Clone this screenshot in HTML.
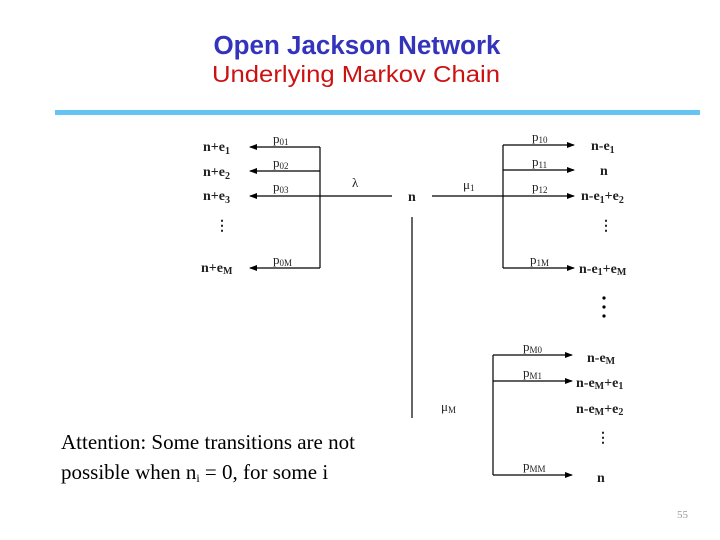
<!DOCTYPE html>
<html><head><meta charset="utf-8"><style>
body{margin:0;background:#fff;}
svg{display:block}
.t{font-family:"Liberation Serif",serif;font-weight:bold;font-size:14px;fill:#222}
.p{font-family:"Liberation Serif",serif;font-size:13px;fill:#222}
</style></head><body>
<svg width="720" height="540" viewBox="0 0 720 540" xmlns="http://www.w3.org/2000/svg">
<defs><marker id="a" markerWidth="8" markerHeight="6" refX="7" refY="3" orient="auto" markerUnits="userSpaceOnUse"><path d="M0,0 L8,3 L0,6 z" fill="#000"/></marker></defs>
<text x="357" y="54" text-anchor="middle" font-family="Liberation Sans,sans-serif" font-weight="bold" font-size="25.5" fill="#3333bb" textLength="287" lengthAdjust="spacingAndGlyphs">Open Jackson Network</text>
<text x="356" y="82" text-anchor="middle" font-family="Liberation Sans,sans-serif" font-size="23" fill="#cc1111" textLength="288" lengthAdjust="spacingAndGlyphs">Underlying Markov Chain</text>
<rect x="55" y="110" width="645" height="5" fill="#66c4f2"/>
<g stroke="#000" stroke-width="1.2" fill="none">
<line x1="320" y1="147" x2="320" y2="268"/>
<line x1="392" y1="196" x2="320" y2="196"/>
<line x1="320" y1="147" x2="250" y2="147" marker-end="url(#a)"/>
<line x1="320" y1="171" x2="250" y2="171" marker-end="url(#a)"/>
<line x1="320" y1="196" x2="250" y2="196" marker-end="url(#a)"/>
<line x1="320" y1="268" x2="250" y2="268" marker-end="url(#a)"/>
<line x1="432" y1="196" x2="503" y2="196"/>
<line x1="503" y1="145" x2="503" y2="268"/>
<line x1="503" y1="145" x2="574" y2="145" marker-end="url(#a)"/>
<line x1="503" y1="170" x2="574" y2="170" marker-end="url(#a)"/>
<line x1="503" y1="196" x2="574" y2="196" marker-end="url(#a)"/>
<line x1="503" y1="268" x2="574" y2="268" marker-end="url(#a)"/>
<line x1="412" y1="217" x2="412" y2="418"/>
<line x1="493" y1="355" x2="493" y2="475"/>
<line x1="493" y1="355" x2="572" y2="355" marker-end="url(#a)"/>
<line x1="493" y1="381" x2="572" y2="381" marker-end="url(#a)"/>
<line x1="493" y1="475" x2="572" y2="475" marker-end="url(#a)"/>
</g>
<text class="t" x="203" y="151">n+e<tspan font-size="10" dy="3">1</tspan></text>
<text class="t" x="203" y="176">n+e<tspan font-size="10" dy="3">2</tspan></text>
<text class="t" x="203" y="200">n+e<tspan font-size="10" dy="3">3</tspan></text>
<text class="t" x="215" y="230">⋮</text>
<text class="t" x="201" y="272">n+e<tspan font-size="10" dy="2">M</tspan></text>
<text class="p" x="273" y="143">p<tspan font-size="9" dy="2">01</tspan></text>
<text class="p" x="273" y="167">p<tspan font-size="9" dy="2">02</tspan></text>
<text class="p" x="273" y="191">p<tspan font-size="9" dy="2">03</tspan></text>
<text class="p" x="273" y="264">p<tspan font-size="9" dy="2">0M</tspan></text>
<text class="p" x="352" y="187" font-size="14">λ</text>
<text class="t" x="408" y="201">n</text>
<text class="p" x="463" y="189">μ<tspan font-size="9" dy="2">1</tspan></text>
<text class="p" x="532" y="141">p<tspan font-size="9" dy="2">10</tspan></text>
<text class="p" x="532" y="166">p<tspan font-size="9" dy="2">11</tspan></text>
<text class="p" x="532" y="191">p<tspan font-size="9" dy="2">12</tspan></text>
<text class="p" x="530" y="264">p<tspan font-size="9" dy="2">1M</tspan></text>
<text class="t" x="591" y="150">n-e<tspan font-size="10" dy="3">1</tspan></text>
<text class="t" x="600" y="175">n</text>
<text class="t" x="581" y="200">n-e<tspan font-size="10" dy="3">1</tspan><tspan dy="-3">+e</tspan><tspan font-size="10" dy="3">2</tspan></text>
<text class="t" x="599" y="230">⋮</text>
<text class="t" x="579" y="273">n-e<tspan font-size="10" dy="2">1</tspan><tspan dy="-2">+e</tspan><tspan font-size="10" dy="2">M</tspan></text>
<circle cx="604" cy="298" r="1.6" fill="#000"/><circle cx="604" cy="307" r="1.6" fill="#000"/><circle cx="604" cy="316" r="1.6" fill="#000"/>
<text class="p" x="523" y="351">p<tspan font-size="9" dy="2">M0</tspan></text>
<text class="p" x="523" y="377">p<tspan font-size="9" dy="2">M1</tspan></text>
<text class="p" x="523" y="470">p<tspan font-size="9" dy="2">MM</tspan></text>
<text class="p" x="441" y="411">μ<tspan font-size="9" dy="2">M</tspan></text>
<text class="t" x="587" y="362">n-e<tspan font-size="10" dy="2">M</tspan></text>
<text class="t" x="576" y="387">n-e<tspan font-size="10" dy="2">M</tspan><tspan dy="-2">+e</tspan><tspan font-size="10" dy="2">1</tspan></text>
<text class="t" x="576" y="413">n-e<tspan font-size="10" dy="2">M</tspan><tspan dy="-2">+e</tspan><tspan font-size="10" dy="2">2</tspan></text>
<text class="t" x="596" y="442">⋮</text>
<text class="t" x="597" y="482">n</text>
<text x="61" y="449" font-family="Liberation Serif,serif" font-size="21" fill="#000">Attention: Some transitions are not</text>
<text x="61" y="479" font-family="Liberation Serif,serif" font-size="21" fill="#000">possible when n<tspan font-size="12" dy="3">i</tspan><tspan dy="-3"> = 0, for some i</tspan></text>
<text x="677" y="518" font-family="Liberation Serif,serif" font-size="11" fill="#999">55</text>
</svg>
</body></html>
